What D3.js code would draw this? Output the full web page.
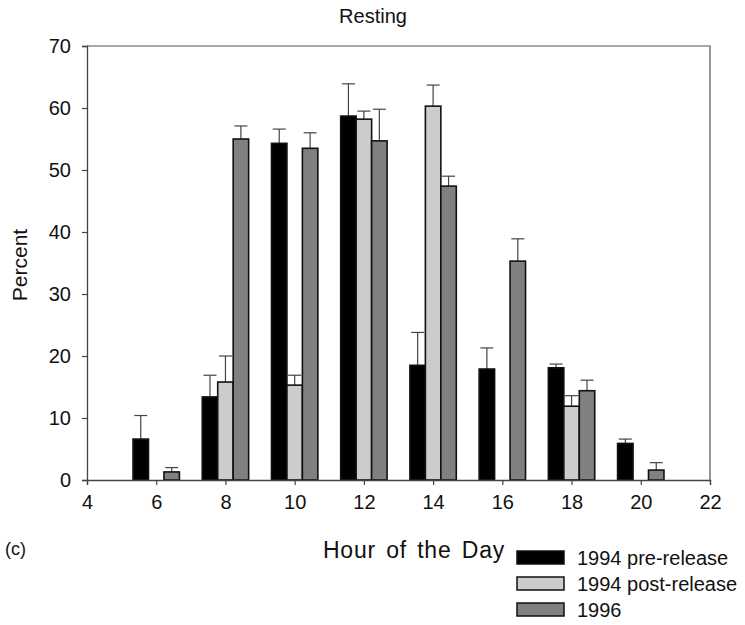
<!DOCTYPE html>
<html><head><meta charset="utf-8">
<script src="https://cdn.jsdelivr.net/npm/d3@7"></script>
<style>body{margin:0;background:#fff}text{font-family:"Liberation Sans",Arial,sans-serif;fill:#111}</style>
</head><body><svg id="c" width="745" height="625"></svg>
<script>
const hours = [6, 8, 10, 12, 14, 16, 18, 20];
const seriesNames = ["1994 pre-release", "1994 post-release", "1996"];
const pre      = [6.6, 13.4, 54.3, 58.7, 18.5, 17.9, 18.1, 5.9];
const preErr   = [10.4, 16.9, 56.6, 63.9, 23.8, 21.3, 18.7, 6.6];
const post     = [null, 15.8, 15.3, 58.2, 60.3, null, 11.9, null];
const postErr  = [null, 20.0, 16.9, 59.5, 63.7, null, 13.6, null];
const y96      = [1.3, 55.0, 53.5, 54.7, 47.4, 35.3, 14.4, 1.6];
const y96Err   = [2.0, 57.1, 56.0, 59.8, 49.0, 38.9, 16.1, 2.8];
const xTicks = [4, 6, 8, 10, 12, 14, 16, 18, 20, 22];
const yTicks = [0, 10, 20, 30, 40, 50, 60, 70];
const colors = ["#000000", "#cccccc", "#808080"];

const svg = d3.select("#c");
const L = 87, R = 710, T = 46, B = 480;
const x = d3.scaleLinear().domain([4, 22]).range([L, R]);
const y = d3.scaleLinear().domain([0, 70]).range([B, T]);
const groupW = 1.34;
const sub = d3.scaleBand().domain([0, 1, 2]).range([-groupW / 2, groupW / 2]).padding(0);

svg.append("path").attr("d", `M${L},${T}H${R}V${B}`).attr("fill", "none").attr("stroke", "#555").attr("stroke-width", 1.2);

const vals = [pre, post, y96], errs = [preErr, postErr, y96Err];
const data = [];
hours.forEach((h, i) => vals.forEach((s, k) => { if (s[i] != null) data.push({h, k, v: s[i], e: errs[k][i]}); }));

const bx = d => x(d.h + sub(d.k));
const bw = d => x(d.h + sub(d.k) + sub.bandwidth()) - x(d.h + sub(d.k));

const eg = svg.append("g").attr("stroke", "#444").attr("stroke-width", 1.2);
data.forEach(d => {
  const cx = bx(d) + bw(d) / 2;
  eg.append("line").attr("x1", cx).attr("x2", cx).attr("y1", y(d.v)).attr("y2", y(d.e));
  eg.append("line").attr("x1", cx - 6.5).attr("x2", cx + 6.5).attr("y1", y(d.e)).attr("y2", y(d.e));
});

svg.append("g").selectAll("rect").data(data).join("rect")
  .attr("x", bx).attr("width", bw)
  .attr("y", d => y(d.v)).attr("height", d => y(0) - y(d.v))
  .attr("fill", d => colors[d.k]).attr("stroke", "#111").attr("stroke-width", 1.6);

const xa = svg.append("g").attr("transform", `translate(0,${B})`)
  .call(d3.axisBottom(x).tickValues(xTicks).tickSize(5).tickPadding(10).tickFormat(d3.format("d")));
const ya = svg.append("g").attr("transform", `translate(${L},0)`)
  .call(d3.axisLeft(y).tickValues(yTicks).tickSize(5).tickPadding(11));
[xa, ya].forEach(a => {
  a.select(".domain").attr("stroke", "#444").attr("stroke-width", 1.3);
  a.selectAll(".tick line").attr("stroke", "#444").attr("stroke-width", 1.2);
  a.selectAll("text").attr("font-size", 20).attr("fill", "#111").attr("font-family", '"Liberation Sans",Arial,sans-serif');
});

svg.append("text").attr("x", 373).attr("y", 23).attr("text-anchor", "middle").attr("font-size", 20).text("Resting");
svg.append("text").attr("transform", "translate(27,265) rotate(-90)").attr("text-anchor", "middle").attr("font-size", 21).text("Percent");
svg.append("text").attr("x", 414).attr("y", 558).attr("text-anchor", "middle").attr("font-size", 23)
  .attr("letter-spacing", 0.8).attr("word-spacing", 3).text("Hour of the Day");
svg.append("text").attr("x", 5).attr("y", 555).attr("font-size", 18).text("(c)");

const lg = svg.append("g");
seriesNames.forEach((n, i) => {
  const yy = 551 + i * 26;
  lg.append("rect").attr("x", 517).attr("y", yy).attr("width", 47).attr("height", 13)
    .attr("fill", colors[i]).attr("stroke", "#111").attr("stroke-width", 1.5);
  lg.append("text").attr("x", 577).attr("y", yy + 14).attr("font-size", 20).text(n);
});
</script></body></html>
